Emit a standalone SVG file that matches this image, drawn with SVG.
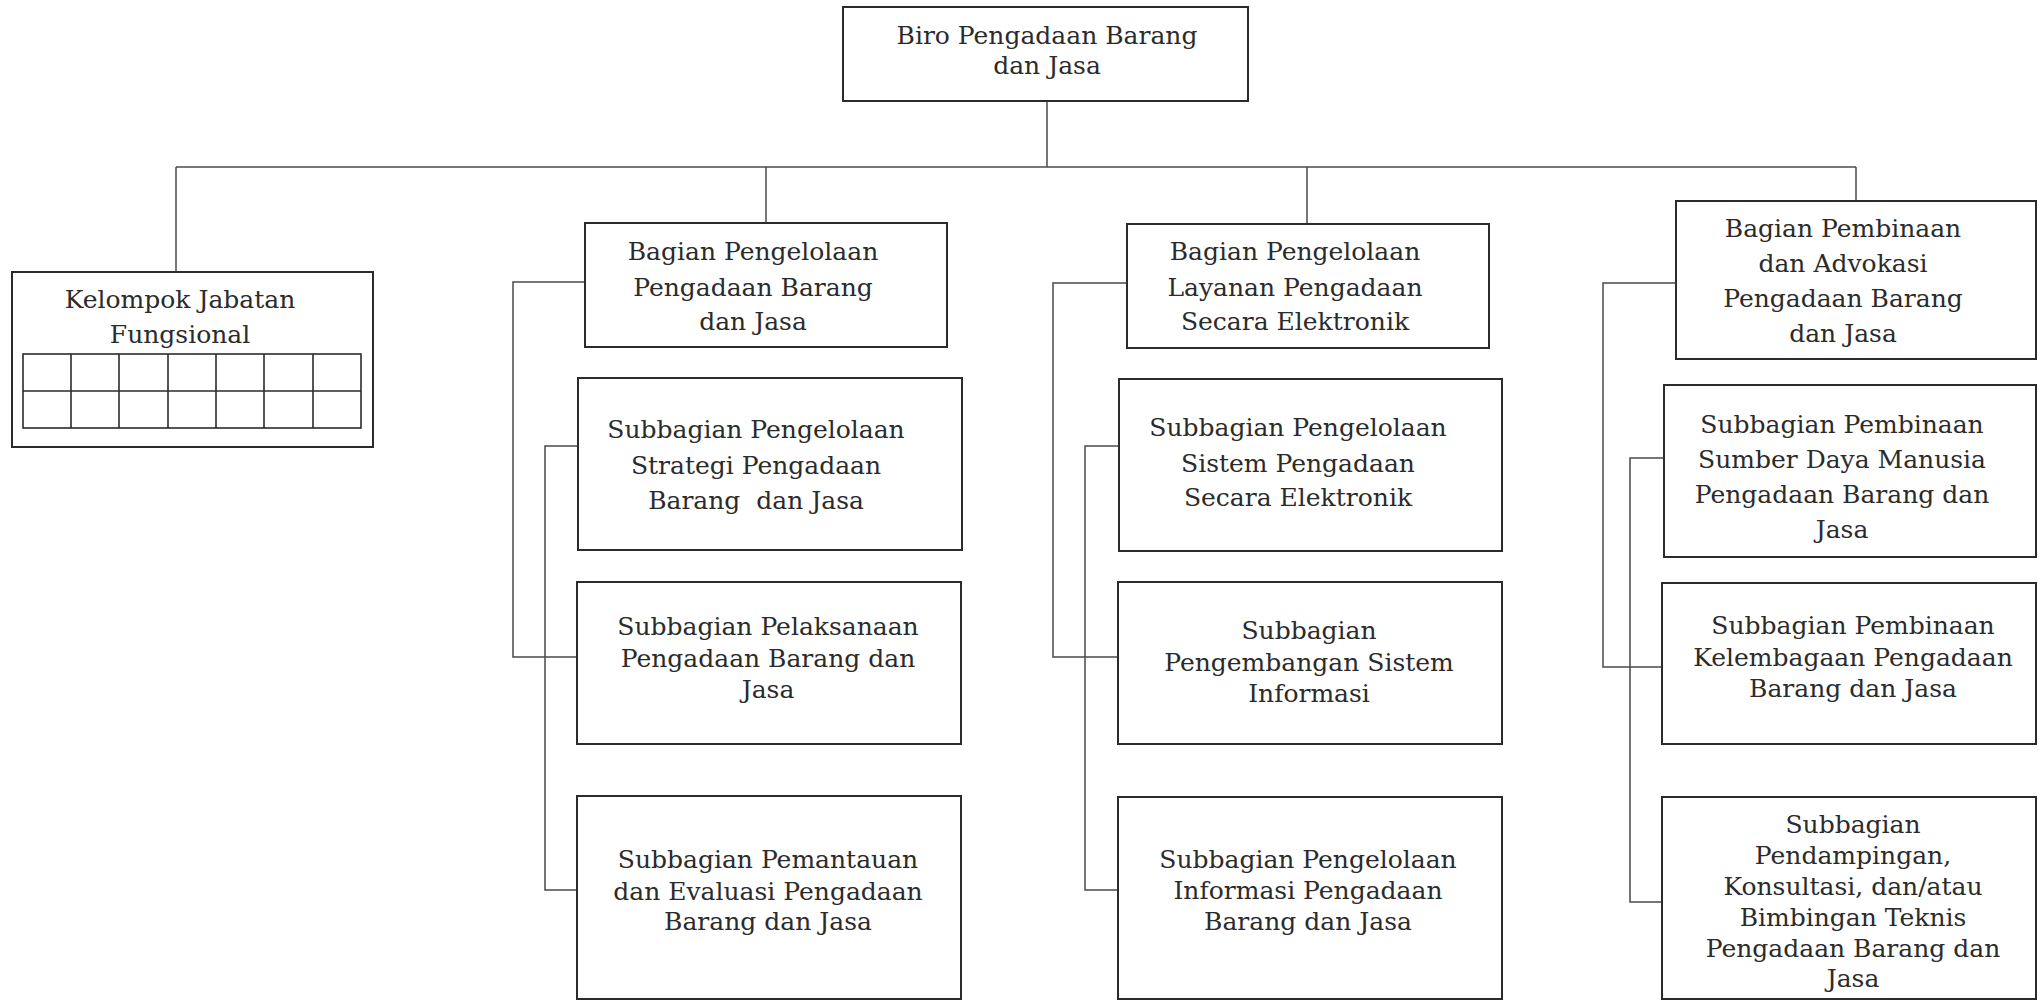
<svg xmlns="http://www.w3.org/2000/svg" width="2038" height="1002" viewBox="0 0 2038 1002">
<style>
.bg{fill:#ffffff}
.box{fill:#ffffff;stroke:#2b2b2b;stroke-width:2}
.grid{fill:none;stroke:#2b2b2b;stroke-width:1.6}
.conn{fill:none;stroke:#4a4a4a;stroke-width:1.5}
.t{font-family:"DejaVu Serif","Liberation Serif",serif;font-size:25px;fill:#2b2b2b;text-anchor:middle}
</style>
<rect class="bg" x="0" y="0" width="2038" height="1002"/>
<g id="connectors">
<path class="conn" d="M1047 101 V167"/>
<path class="conn" d="M176 167 H1856"/>
<path class="conn" d="M176 167 V272"/>
<path class="conn" d="M766 167 V223"/>
<path class="conn" d="M1307 167 V224"/>
<path class="conn" d="M1856 167 V201"/>
<path class="conn" d="M585 282 H513 V657 H577"/>
<path class="conn" d="M578 446 H545 V890 H577"/>
<path class="conn" d="M1127 283 H1053 V657 H1118"/>
<path class="conn" d="M1119 446 H1085 V890 H1118"/>
<path class="conn" d="M1676 283 H1603 V667 H1662"/>
<path class="conn" d="M1664 458 H1630 V902 H1662"/>
</g>
<g id="biro">
<rect class="box" x="843" y="7" width="405" height="94"/>
<text class="t" x="1047" y="44">Biro Pengadaan Barang</text>
<text class="t" x="1047" y="74">dan Jasa</text>
</g>
<g id="kelompok">
<rect class="box" x="12" y="272" width="361" height="175"/>
<text class="t" x="180" y="308">Kelompok Jabatan</text>
<text class="t" x="180" y="343">Fungsional</text>
<rect class="grid" x="23" y="354" width="338" height="74"/>
<path class="grid" d="M23 391 H361 M71 354 V428 M119 354 V428 M168 354 V428 M216 354 V428 M264 354 V428 M313 354 V428"/>
</g>
<g id="bagian1">
<rect class="box" x="585" y="223" width="362" height="124"/>
<text class="t" x="753" y="260">Bagian Pengelolaan</text>
<text class="t" x="753" y="296">Pengadaan Barang</text>
<text class="t" x="753" y="330">dan Jasa</text>
</g>
<g id="sub1a">
<rect class="box" x="578" y="378" width="384" height="172"/>
<text class="t" x="756" y="438">Subbagian Pengelolaan</text>
<text class="t" x="756" y="474">Strategi Pengadaan</text>
<text class="t" x="756" y="509" xml:space="preserve">Barang  dan Jasa</text>
</g>
<g id="sub1b">
<rect class="box" x="577" y="582" width="384" height="162"/>
<text class="t" x="768" y="635">Subbagian Pelaksanaan</text>
<text class="t" x="768" y="667">Pengadaan Barang dan</text>
<text class="t" x="768" y="698">Jasa</text>
</g>
<g id="sub1c">
<rect class="box" x="577" y="796" width="384" height="203"/>
<text class="t" x="768" y="868">Subbagian Pemantauan</text>
<text class="t" x="768" y="900">dan Evaluasi Pengadaan</text>
<text class="t" x="768" y="930">Barang dan Jasa</text>
</g>
<g id="bagian2">
<rect class="box" x="1127" y="224" width="362" height="124"/>
<text class="t" x="1295" y="260">Bagian Pengelolaan</text>
<text class="t" x="1295" y="296">Layanan Pengadaan</text>
<text class="t" x="1295" y="330">Secara Elektronik</text>
</g>
<g id="sub2a">
<rect class="box" x="1119" y="379" width="383" height="172"/>
<text class="t" x="1298" y="436">Subbagian Pengelolaan</text>
<text class="t" x="1298" y="472">Sistem Pengadaan</text>
<text class="t" x="1298" y="506">Secara Elektronik</text>
</g>
<g id="sub2b">
<rect class="box" x="1118" y="582" width="384" height="162"/>
<text class="t" x="1309" y="639">Subbagian</text>
<text class="t" x="1309" y="671">Pengembangan Sistem</text>
<text class="t" x="1309" y="702">Informasi</text>
</g>
<g id="sub2c">
<rect class="box" x="1118" y="797" width="384" height="202"/>
<text class="t" x="1308" y="868">Subbagian Pengelolaan</text>
<text class="t" x="1308" y="899">Informasi Pengadaan</text>
<text class="t" x="1308" y="930">Barang dan Jasa</text>
</g>
<g id="bagian3">
<rect class="box" x="1676" y="201" width="360" height="158"/>
<text class="t" x="1843" y="237">Bagian Pembinaan</text>
<text class="t" x="1843" y="272">dan Advokasi</text>
<text class="t" x="1843" y="307">Pengadaan Barang</text>
<text class="t" x="1843" y="342">dan Jasa</text>
</g>
<g id="sub3a">
<rect class="box" x="1664" y="385" width="372" height="172"/>
<text class="t" x="1842" y="433">Subbagian Pembinaan</text>
<text class="t" x="1842" y="468">Sumber Daya Manusia</text>
<text class="t" x="1842" y="503">Pengadaan Barang dan</text>
<text class="t" x="1842" y="538">Jasa</text>
</g>
<g id="sub3b">
<rect class="box" x="1662" y="583" width="374" height="161"/>
<text class="t" x="1853" y="634">Subbagian Pembinaan</text>
<text class="t" x="1853" y="666">Kelembagaan Pengadaan</text>
<text class="t" x="1853" y="697">Barang dan Jasa</text>
</g>
<g id="sub3c">
<rect class="box" x="1662" y="797" width="374" height="202"/>
<text class="t" x="1853" y="833">Subbagian</text>
<text class="t" x="1853" y="864">Pendampingan,</text>
<text class="t" x="1853" y="895">Konsultasi, dan/atau</text>
<text class="t" x="1853" y="926">Bimbingan Teknis</text>
<text class="t" x="1853" y="957">Pengadaan Barang dan</text>
<text class="t" x="1853" y="987">Jasa</text>
</g>
</svg>
